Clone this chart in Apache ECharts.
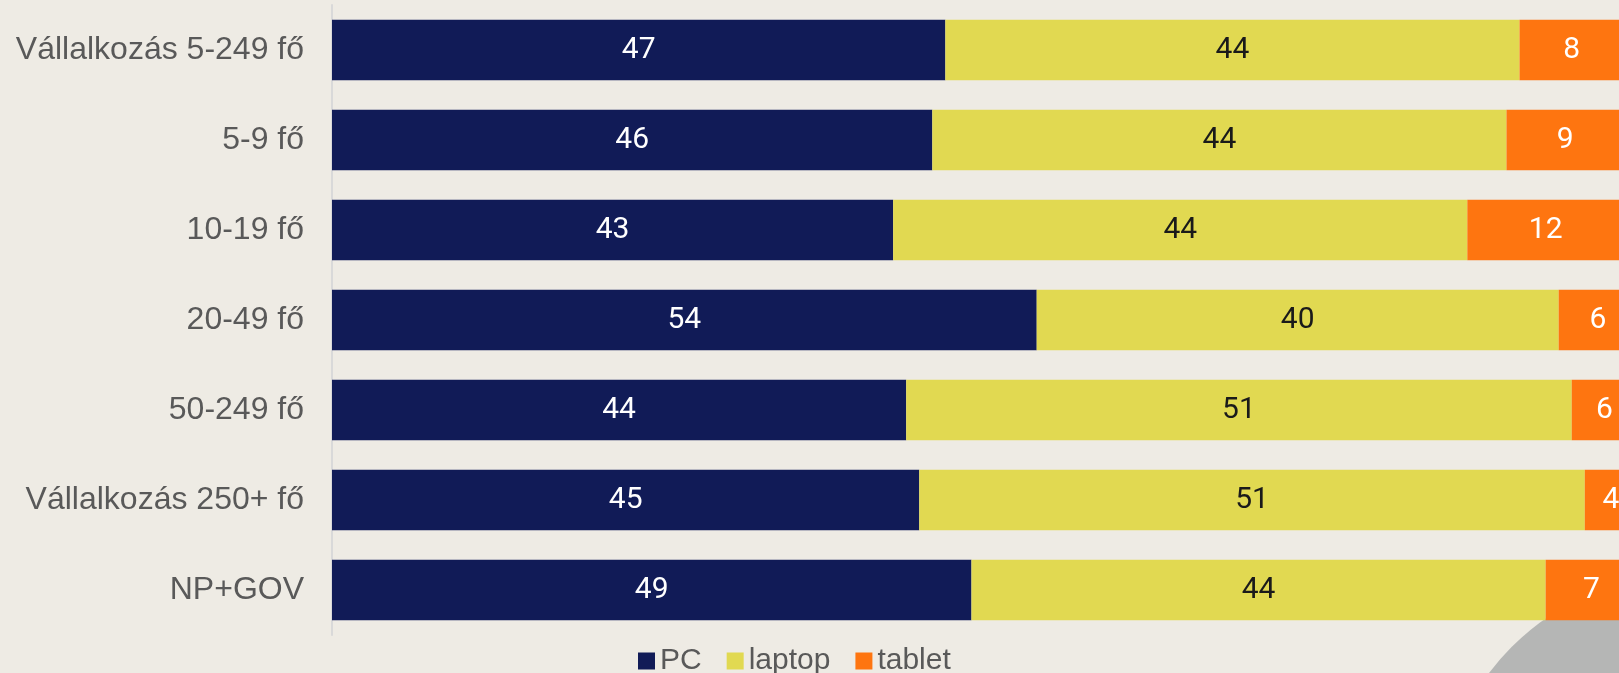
<!DOCTYPE html>
<html>
<head>
<meta charset="utf-8">
<script src="https://cdn.jsdelivr.net/npm/echarts@6/dist/echarts.min.js"></script>
<style>
  html, body { margin: 0; padding: 0; background: #EEEBE4; }
  #chart { width: 1619px; height: 673px; }
</style>
</head>
<body>
<div id="chart"></div>
<script>
var categories = ['Vállalkozás 5-249 fő', '5-9 fő', '10-19 fő', '20-49 fő', '50-249 fő', 'Vállalkozás 250+ fő', 'NP+GOV']
var pcValues = [47, 46, 43, 54, 44, 45, 49]
var laptopValues = [44, 44, 44, 40, 51, 51, 44]
var tabletValues = [8, 9, 12, 6, 6, 4, 7]
var seriesNames = ['PC', 'laptop', 'tablet']
var seriesColors = ['#111B57', '#E1D951', '#FE7510']
var labelColors = ['#FFFFFF', '#1A1A1A', '#FFFFFF']

var chart = echarts.init(document.getElementById('chart'))

function makeSeries(name, data, idx) {
  return {
    name: name,
    type: 'bar',
    stack: 'total',
    barCategoryGap: '33%',
    data: data,
    itemStyle: { color: seriesColors[idx] },
    label: {
      show: true,
      position: 'inside',
      color: labelColors[idx],
      fontFamily: 'Roboto',
      fontSize: 30
    }
  }
}

chart.setOption({
  backgroundColor: '#EEEBE4',
  animation: false,
  graphic: [{
    type: 'circle',
    z: 0,
    shape: { cx: 1690, cy: 825, r: 252 },
    style: { fill: '#B5B6B5' }
  }],
  legend: {
    data: seriesNames,
    left: 633,
    top: 641,
    icon: 'rect',
    itemWidth: 17,
    itemHeight: 17,
    itemGap: 25,
    textStyle: {
      color: '#595959',
      fontFamily: 'Liberation Sans',
      fontSize: 30
    }
  },
  grid: {
    left: 332,
    top: 5,
    width: 1305,
    height: 630,
    outerBoundsMode: 'none'
  },
  xAxis: {
    type: 'value',
    min: 0,
    max: 100,
    show: false
  },
  yAxis: {
    type: 'category',
    inverse: true,
    data: categories,
    axisLine: { show: true, lineStyle: { color: '#D9D9D9', width: 2 } },
    axisTick: { show: false },
    axisLabel: {
      margin: 28,
      color: '#595959',
      fontFamily: 'Liberation Sans',
      fontSize: 32
    }
  },
  series: [
    makeSeries(seriesNames[0], pcValues, 0),
    makeSeries(seriesNames[1], laptopValues, 1),
    makeSeries(seriesNames[2], tabletValues, 2)
  ]
})
</script>
</body>
</html>
